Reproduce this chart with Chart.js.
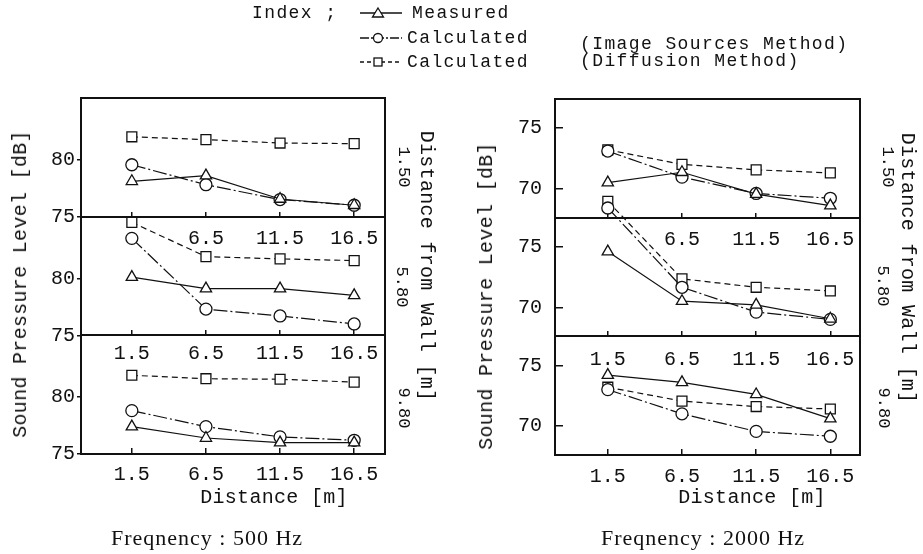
<!DOCTYPE html>
<html>
<head>
<meta charset="utf-8">
<script src="https://cdn.jsdelivr.net/npm/chart.js@4"></script>
<style>
  html, body { margin: 0; padding: 0; background: #fff; }
  body { width: 923px; height: 554px; position: relative; overflow: hidden;
         font-family: "Liberation Mono", "DejaVu Sans Mono", monospace; color: #111; }
  canvas { position: absolute; top: 0; }
  .t { position: absolute; white-space: nowrap; line-height: 1; }
  .c { transform: translate(-50%, -50%); }
  .l { transform: translate(0, -50%); }
  .up { transform: translate(-50%, -50%) rotate(-90deg); }
  .down { transform: translate(-50%, -50%) rotate(90deg); }
  .ax { font-size: 20px; letter-spacing: 0.3px; }
  .leg { font-size: 18px; letter-spacing: 1.4px; }
  .sub { font-size: 17px; }
  .freq { font-family: "Liberation Serif", "DejaVu Serif", serif; font-size: 22px; letter-spacing: 1px; }
  svg { position: absolute; left: 0; top: 0; }
</style>
</head>
<body>
<canvas id="c500" width="470" height="554" style="left:0"></canvas>
<canvas id="c2000" width="453" height="554" style="left:470px"></canvas>

<!-- legend -->
<svg width="923" height="80">
  <g stroke="#111" stroke-width="1.3" fill="#fff">
    <line x1="360" y1="13" x2="402" y2="13"/>
    <polygon points="378,8 383.5,17 372.5,17"/>
    <line x1="360" y1="38" x2="402" y2="38" stroke-dasharray="9,2,2,2"/>
    <circle cx="378" cy="38" r="4.5"/>
    <line x1="360" y1="62" x2="402" y2="62" stroke-dasharray="4,3"/>
    <rect x="374" y="58" width="8" height="8"/>
  </g>
</svg>
<div class="t l leg" style="left:252px;top:13px">Index ;</div>
<div class="t l leg" style="left:412px;top:13px">Measured</div>
<div class="t l leg" style="left:407px;top:38px">Calculated</div>
<div class="t l leg" style="left:407px;top:62px">Calculated</div>
<div class="t l leg" style="left:580px;top:44px">(Image Sources Method)</div>
<div class="t l leg" style="left:580px;top:61px">(Diffusion Method)</div>

<!-- axis titles, 500 Hz -->
<div class="t up ax" style="left:21px;top:284px">Sound Pressure Level [dB]</div>
<div class="t down ax" style="left:426px;top:266px">Distance from Wall [m]</div>
<div class="t down sub" style="left:403px;top:167px">1.50</div>
<div class="t down sub" style="left:401px;top:287px">5.80</div>
<div class="t down sub" style="left:403px;top:408px">9.80</div>
<div class="t c ax" style="left:274px;top:498px">Distance [m]</div>
<div class="t c freq" style="left:207px;top:538px">Freqnency : 500 Hz</div>

<!-- axis titles, 2000 Hz -->
<div class="t up ax" style="left:487px;top:296px">Sound Pressure Level [dB]</div>
<div class="t down ax" style="left:907px;top:268px">Distance from Wall [m]</div>
<div class="t down sub" style="left:887px;top:167px">1.50</div>
<div class="t down sub" style="left:882px;top:286px">5.80</div>
<div class="t down sub" style="left:883px;top:408px">9.80</div>
<div class="t c ax" style="left:752px;top:498px">Distance [m]</div>
<div class="t c freq" style="left:703px;top:538px">Freqnency : 2000 Hz</div>

<script>
// distance from source [m]
const distances = [1.5, 6.5, 11.5, 16.5];
const xTicks = [1.5, 6.5, 11.5, 16.5];
const yTicks500 = [75, 80];
const yTicks2000 = [70, 75];

// rows: distance from wall 1.50 / 5.80 / 9.80 m
const measured500 = [
  [78.1, 78.6, 76.55, 76.0],
  [80.1, 79.1, 79.1, 78.5],
  [77.4, 76.4, 76.0, 76.0]
];
const imageSrc500 = [
  [79.55, 77.8, 76.5, 76.0],
  [83.5, 77.3, 76.7, 76.0],
  [78.8, 77.4, 76.5, 76.2]
];
const diffusion500 = [
  [82.0, 81.75, 81.45, 81.4],
  [84.9, 81.9, 81.7, 81.55],
  [81.9, 81.6, 81.55, 81.3]
];

const measured2000 = [
  [70.5, 71.35, 69.55, 68.6],
  [74.6, 70.5, 70.2, 69.05],
  [74.2, 73.6, 72.6, 70.6]
];
const imageSrc2000 = [
  [73.1, 70.95, 69.6, 69.2],
  [78.2, 71.65, 69.6, 69.0],
  [73.0, 71.0, 69.55, 69.15]
];
const diffusion2000 = [
  [73.2, 72.0, 71.55, 71.3],
  [78.75, 72.35, 71.65, 71.35],
  [73.2, 72.05, 71.6, 71.4]
];

const INK = '#111';
const tickFont = { family: '"Liberation Mono", "DejaVu Sans Mono", monospace', size: 20 };

function makePanel(canvasId, p) {
   const axisIds = ['yTop', 'yMid', 'yBot'];
   const series = [
      { rows: p.measured, pointStyle: 'triangle', radius: 6.5, dash: [] },
      { rows: p.imageSrc, pointStyle: 'circle', radius: 6, dash: [14, 3, 2, 3] },
      { rows: p.diffusion, pointStyle: 'rect', radius: 7, dash: [6, 4] }
   ];

   const datasets = [];
   series.forEach(s => {
      s.rows.forEach((row, r) => {
         datasets.push({
            data: row.map((v, i) => ({ x: distances[i], y: v })),
            yAxisID: axisIds[r],
            xAxisID: 'x',
            borderColor: INK,
            borderWidth: 1.2,
            borderDash: s.dash,
            pointStyle: s.pointStyle,
            pointRadius: s.radius,
            pointBackgroundColor: '#fff',
            pointBorderColor: INK,
            pointBorderWidth: 1.3,
            tension: 0,
            clip: false
         });
      });
   });

   const setXTicks = sc => { sc.ticks = xTicks.map(v => ({ value: v })); };
   const setYTicks = sc => { sc.ticks = p.yTicks.map(v => ({ value: v })); };

   // stacked y axes: first listed ends up at the bottom
   const yAxis = () => ({
      type: 'linear', position: 'left', stack: 'panel', stackWeight: 1, offset: false,
      min: p.yMin, max: p.yMax,
      afterBuildTicks: setYTicks,
      afterFit: sc => { sc.width = p.axisWidth; },
      grid: { drawOnChartArea: false, drawTicks: true, tickLength: p.yTickLen, color: INK, lineWidth: 1.5 },
      border: { display: true, color: INK, width: 2 },
      ticks: { font: tickFont, color: INK, padding: p.yTickPad }
   });

   // ticks point up into the plot, as in the original
   const xAxis = (position, pad, hideFirst) => ({
      type: 'linear', position: position, min: p.xMin, max: p.xMax,
      afterBuildTicks: setXTicks,
      grid: { drawOnChartArea: false, drawTicks: true, tickLength: -6, color: INK, lineWidth: 1.5 },
      border: { display: true, color: INK, width: 2 },
      ticks: {
         font: tickFont, color: INK, padding: pad, maxRotation: 0,
         callback: v => (hideFirst && v === xTicks[0]) ? '' : v.toFixed(1)
      }
   });

   const scales = {
      x: Object.assign(xAxis('bottom', p.padBottom, false), {
         afterFit: sc => { sc.height = p.xHeight; }
      }),
      xMid: xAxis({ yMid: p.yMax }, p.padMid, true),
      xBot: xAxis({ yBot: p.yMax }, p.padBot, false),
      xTop: {
         type: 'linear', position: { yTop: p.yMax }, min: p.xMin, max: p.xMax,
         ticks: { display: false }, grid: { display: false },
         border: { display: true, color: INK, width: 2 }
      },
      yRight: {
         type: 'linear', position: { x: p.xMax }, min: 0, max: 1,
         ticks: { display: false }, grid: { display: false },
         border: { display: true, color: INK, width: 2 }
      },
      yBot: yAxis(),
      yMid: yAxis(),
      yTop: yAxis()
   };

   return new Chart(document.getElementById(canvasId), {
      type: 'line',
      data: { datasets: datasets },
      options: {
         responsive: false,
         animation: false,
         events: [],
         layout: { padding: { top: p.top, right: p.right, left: 0, bottom: 0 } },
         plugins: { legend: { display: false }, tooltip: { enabled: false }, title: { display: false } },
         scales: scales
      }
   });
}

makePanel('c500', {
   measured: measured500, imageSrc: imageSrc500, diffusion: diffusion500,
   yTicks: yTicks500, yMin: 75, yMax: 85.4,
   xMin: -1.93, xMax: 18.58,
   axisWidth: 81, yTickLen: 4, yTickPad: 2,
   top: 98, right: 85, xHeight: 100,
   padBottom: 15, padMid: 16, padBot: 12
});

makePanel('c2000', {
   measured: measured2000, imageSrc: imageSrc2000, diffusion: diffusion2000,
   yTicks: yTicks2000, yMin: 67.6, yMax: 77.4,
   xMin: -2.06, xMax: 18.5,
   axisWidth: 85, yTickLen: -8, yTickPad: 21,
   top: 99, right: 63, xHeight: 99,
   padBottom: 16, padMid: 16, padBot: 17
});
</script>
</body>
</html>
